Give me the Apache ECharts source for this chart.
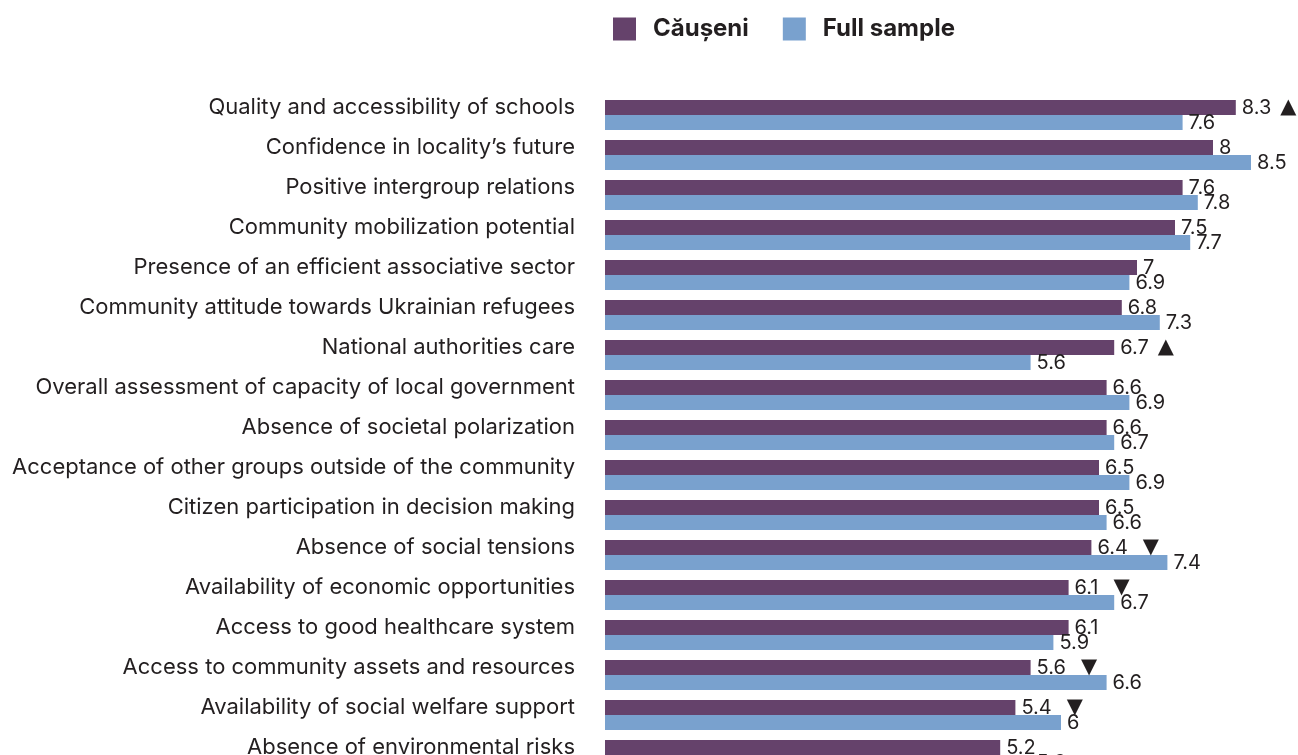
<!DOCTYPE html>
<html>
<head>
<meta charset="utf-8">
<style>
  html, body { margin: 0; padding: 0; background: #fff; }
  #chart { width: 1298px; height: 755px; }
</style>
<script src="https://cdn.jsdelivr.net/npm/echarts@6/dist/echarts.min.js"></script>
</head>
<body>
<div id="chart"></div>
<script>
// categories, top to bottom
var categories = [
  'Quality and accessibility of schools',
  'Confidence in locality\u2019s future',
  'Positive intergroup relations',
  'Community mobilization potential',
  'Presence of an efficient associative sector',
  'Community attitude towards Ukrainian refugees',
  'National authorities care',
  'Overall assessment of capacity of local government',
  'Absence of societal polarization',
  'Acceptance of other groups outside of the community',
  'Citizen participation in decision making',
  'Absence of social tensions',
  'Availability of economic opportunities',
  'Access to good healthcare system',
  'Access to community assets and resources',
  'Availability of social welfare support',
  'Absence of environmental risks'
]

var causeni = [8.3, 8, 7.6, 7.5, 7, 6.8, 6.7, 6.6, 6.6, 6.5, 6.5, 6.4, 6.1, 6.1, 5.6, 5.4, 5.2]
var fullSample = [7.6, 8.5, 7.8, 7.7, 6.9, 7.3, 5.6, 6.9, 6.7, 6.9, 6.6, 7.4, 6.7, 5.9, 6.6, 6, 5.6]
// significant difference markers for Căușeni
var marks = ['up', '', '', '', '', '', 'up', '', '', '', '', 'down', 'down', '', 'down', 'down', '']

var chart = echarts.init(document.getElementById('chart'))

var labelFont = 'Inter, sans-serif'

chart.setOption({
  backgroundColor: '#ffffff',
  animation: false,
  legend: {
    left: 608,
    top: 12,
    itemWidth: 23,
    itemHeight: 23,
    itemGap: 34,
    icon: 'rect',
    textStyle: {
      fontFamily: labelFont,
      fontSize: 24,
      fontWeight: 'bold',
      color: '#231f20',
      padding: [0, 0, 0, 12]
    },
    data: ['Căușeni', 'Full sample']
  },
  grid: {
    left: 605,
    right: 9,
    top: 95,
    height: 680,
    outerBoundsMode: 'none'
  },
  xAxis: {
    type: 'value',
    min: 0,
    max: 9,
    show: false
  },
  yAxis: {
    type: 'category',
    inverse: true,
    data: categories,
    axisLine: { show: false },
    axisTick: { show: false },
    axisLabel: {
      margin: 30,
      fontFamily: labelFont,
      fontSize: 22,
      color: '#231f20',
      verticalAlign: 'bottom',
      lineHeight: 16
    }
  },
  series: [
    {
      name: 'Căușeni',
      type: 'bar',
      data: causeni,
      barGap: '0%',
      barCategoryGap: '25%',
      itemStyle: { color: '#65426b' },
      label: {
        show: true,
        position: 'right',
        distance: 6,
        fontFamily: labelFont,
        fontSize: 20,
        color: '#231f20',
        formatter: function (p) {
          var m = marks[p.dataIndex]
          if (m === 'up') return p.value + '{up|\u25B2}'
          if (m === 'down') return p.value + '{down|\u25BC}'
          return '' + p.value
        },
        rich: {
          up: { fontFamily: 'DejaVu Sans', fontSize: 21, color: '#231f20', padding: [0, 0, 0, 9] },
          down: { fontFamily: 'DejaVu Sans', fontSize: 21, color: '#231f20', padding: [0, 0, 0, 15] }
        }
      }
    },
    {
      name: 'Full sample',
      type: 'bar',
      data: fullSample,
      itemStyle: { color: '#79a1ce' },
      label: {
        show: true,
        position: 'right',
        distance: 6,
        fontFamily: labelFont,
        fontSize: 20,
        color: '#231f20'
      }
    }
  ]
})
</script>
</body>
</html>
